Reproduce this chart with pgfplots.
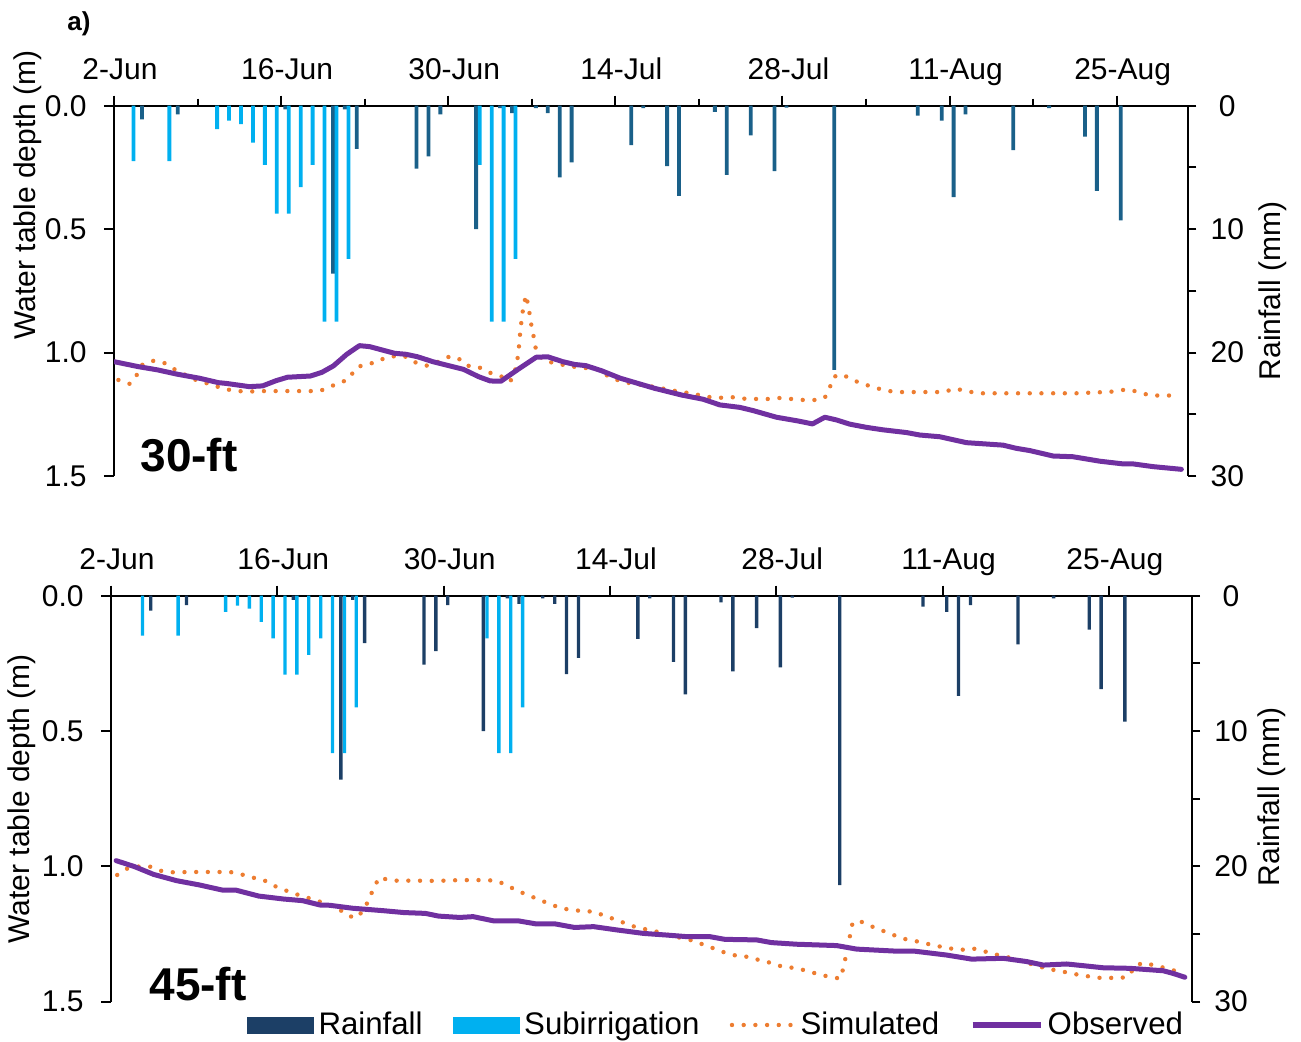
\documentclass[border=0pt]{standalone}
\usepackage{pgfplots}
\pgfplotsset{compat=1.18}
\usepackage{pgfplotstable}
\usepackage{fontspec}
\setmainfont{Liberation Sans}

\definecolor{rainTop}{HTML}{1A6089}
\definecolor{rainBot}{HTML}{1C3F66}
\definecolor{subc}{HTML}{00B0F0}
\definecolor{simc}{HTML}{ED7D31}
\definecolor{obsc}{HTML}{7030A0}

\newcommand\fs{\fontsize{15bp}{18bp}\selectfont}

% daily rainfall (mm); d = day index counted from 2-Jun
\pgfplotstableread{
d r
2 1.1
5 0.7
14 0.3
18 13.6
19 0.3
20 3.5
25 5.1
26 4.1
27 0.7
30 10.0
32 0.2
33 0.6
35 0.2
36 0.6
37 5.8
38 4.6
43 3.2
44 0.2
46 4.9
47 7.3
50 0.5
51 5.6
53 2.4
55 5.3
56 0.15
60 21.4
67 0.8
69 1.2
70 7.4
71 0.7
75 3.6
78 0.2
81 2.5
82 6.9
84 9.3
}\rain

% subirrigation, 30-ft spacing
\pgfplotstableread{
d s
1 4.5
4 4.5
8 1.9
9 1.2
10 1.5
11 3.0
12 4.8
13 8.75
14 8.75
15 6.6
16 4.8
17 17.5
18 17.5
19 12.4
30 4.8
31 17.5
32 17.5
33 12.4
}\subA

% subirrigation, 45-ft spacing
\pgfplotstableread{
d s
2 2.95
5 2.95
9 1.2
10 0.74
11 0.96
12 1.94
13 3.15
14 5.84
15 5.84
16 4.38
17 3.15
18 11.63
19 11.63
20 8.25
31 3.15
32 11.63
33 11.63
34 8.25
}\subB

\tikzset{
  obs/.style={obsc, line width=2.5bp, line join=round, line cap=round},
  sim/.style={simc, line width=2.2bp, line cap=round, dash pattern=on 0bp off 5.85bp},
}

\pgfplotsset{
  /pgf/number format/assume math mode=true,
  panel/.style={
    scale only axis, anchor=south west,
    tick align=outside,
    axis line style={black, line width=1bp},
    tick style={black, line width=1bp},
    tick label style={font=\fs},
  },
  depth/.style={
    panel,
    ymin=0, ymax=1.5, y dir=reverse,
    axis x line*=top, axis y line*=left,
    ytick={0,0.5,1,1.5},
    yticklabel style={/pgf/number format/fixed, /pgf/number format/fixed zerofill,
      /pgf/number format/precision=1, anchor=east, inner sep=0pt, xshift=-8.5bp},
    xticklabel style={anchor=base, inner sep=0pt, xshift=3bp, yshift=8bp},
    xtick={0,14,...,84},
    xticklabels={2-Jun,16-Jun,30-Jun,14-Jul,28-Jul,11-Aug,25-Aug},
    major tick length=5bp, minor tick length=3.5bp,
  },
  rainax/.style={
    panel,
    ymin=0, ymax=30, y dir=reverse,
    axis y line*=right, axis x line=none,
    ytick={0,10,20,30}, minor ytick={5,15,25},
    yticklabel style={anchor=center, inner sep=0pt, xshift=15.5bp},
    major tick length=4bp, minor tick length=4bp,
  },
  bars/.style={ybar, bar width=0.32, bar shift=0pt, draw=none},
}

\begin{document}
\begin{tikzpicture}
\path[use as bounding box] (0,0) rectangle (650.5bp,521bp);

% ---------------- 30-ft panel ----------------
\begin{axis}[depth, at={(57bp,283bp)}, width=537.15bp, height=185.15bp,
  xmin=0, xmax=90, minor xtick={7,21,35,49,63,77}]
\addplot[sim] coordinates {
(0.37,1.111) (1.33,1.127) (1.88,1.093) (2.35,1.050) (3.16,1.033) (4.11,1.039)
(4.92,1.064) (5.72,1.084) (6.68,1.108) (7.64,1.122) (8.44,1.135) (9.41,1.149)
(10.37,1.156) (11.33,1.158) (12.29,1.156) (13.25,1.156) (14.37,1.156) (15.33,1.156)
(16.30,1.156) (17.25,1.156) (18.06,1.138) (18.95,1.124) (19.72,1.104) (20.23,1.064)
(21.00,1.047) (21.90,1.041) (22.80,1.019) (23.67,1.014) (24.47,1.017) (25.37,1.043)
(26.23,1.053) (27.19,1.037) (28.06,1.017) (28.80,1.021) (29.53,1.053) (30.49,1.057)
(31.36,1.080) (32.32,1.093) (33.18,1.118) (33.50,1.091) (33.76,1.041) (33.90,0.990)
(34.06,0.902) (34.25,0.830) (34.51,0.767) (34.75,0.820) (34.92,0.880) (35.07,0.906)
(35.20,0.952) (35.37,0.992) (36.00,1.033) (36.97,1.043) (37.93,1.053) (38.90,1.060)
(39.86,1.064) (40.81,1.070) (41.46,1.100) (42.42,1.115) (43.22,1.124) (44.18,1.131)
(45.14,1.138) (46.10,1.147) (47.07,1.156) (48.02,1.163) (49.00,1.172) (49.97,1.181)
(50.90,1.183) (51.87,1.181) (52.85,1.187) (53.83,1.188) (54.80,1.188) (55.78,1.184)
(56.76,1.188) (57.73,1.192) (58.71,1.192) (59.55,1.183) (59.97,1.141) (60.30,1.098)
(61.00,1.088) (61.87,1.111) (62.76,1.127) (63.74,1.142) (64.66,1.154) (65.60,1.160)
(67.50,1.160) (69.50,1.160) (70.46,1.146) (71.42,1.156) (72.39,1.165) (75.32,1.165)
(79.23,1.165) (81.18,1.165) (82.16,1.160) (83.14,1.162) (84.06,1.154) (85.00,1.149)
(85.93,1.162) (86.85,1.174) (87.83,1.174) (88.80,1.174)
};
\addplot[obs] coordinates {
(0.02,1.037) (2.03,1.057) (3.63,1.070) (5.23,1.087) (7.16,1.104) (8.76,1.122)
(9.41,1.125) (11.33,1.138) (12.45,1.135) (13.57,1.114) (14.53,1.100) (16.46,1.095)
(17.42,1.080) (18.38,1.054) (19.50,1.007) (20.56,0.972) (21.42,0.976) (23.51,1.003)
(24.47,1.007) (25.43,1.017) (26.72,1.037) (29.28,1.068) (30.56,1.098) (31.52,1.115)
(32.42,1.116) (33.76,1.071) (35.37,1.019) (36.33,1.017) (37.61,1.037) (38.58,1.048)
(39.53,1.053) (40.81,1.073) (42.42,1.104) (45.30,1.145) (47.55,1.172) (49.35,1.189)
(50.75,1.212) (52.43,1.222) (53.54,1.235) (55.50,1.262) (57.18,1.276) (58.52,1.289)
(59.55,1.262) (60.53,1.273) (61.64,1.290) (63.04,1.303) (64.43,1.313) (66.39,1.324)
(67.50,1.334) (69.18,1.341) (71.42,1.365) (74.48,1.375) (75.60,1.388) (76.72,1.397)
(78.67,1.419) (80.34,1.422) (82.58,1.440) (84.53,1.451) (85.37,1.451) (87.04,1.462)
(89.42,1.473)
};
\end{axis}

\begin{axis}[rainax, at={(57bp,283bp)}, width=537.15bp, height=185.15bp,
  xmin=0, xmax=90]
\addplot[bars, fill=rainTop] table[x expr=\thisrow{d}+0.34, y=r]{\rain};
\addplot[bars, fill=subc] table[x expr=\thisrow{d}+0.64, y=s]{\subA};
\end{axis}

% ---------------- 45-ft panel ----------------
\begin{axis}[depth, at={(55.5bp,20.2bp)}, width=540.5bp, height=202.95bp,
  xmin=0, xmax=91]
\addplot[sim] coordinates {
(0.52,1.032) (1.33,1.009) (2.30,1.001) (3.27,1.001) (4.23,1.017) (5.19,1.022)
(7.13,1.021) (9.06,1.021) (10.03,1.021) (10.99,1.030) (11.96,1.042) (12.86,1.051)
(13.73,1.072) (14.63,1.088) (15.51,1.102) (16.47,1.115) (17.37,1.128) (18.27,1.139)
(19.21,1.159) (20.02,1.184) (20.72,1.190) (21.36,1.155) (21.78,1.115) (22.17,1.075)
(22.59,1.041) (23.56,1.053) (25.49,1.053) (27.42,1.054) (29.35,1.051) (31.38,1.051)
(32.42,1.053) (33.28,1.069) (34.18,1.090) (35.09,1.106) (35.96,1.122) (36.93,1.139)
(37.83,1.154) (38.80,1.162) (39.73,1.165) (40.70,1.168) (41.60,1.184) (42.56,1.198)
(43.47,1.214) (44.33,1.227) (45.30,1.235) (46.27,1.245) (47.23,1.258) (48.17,1.266)
(49.10,1.276) (50.06,1.293) (50.98,1.307) (51.91,1.323) (52.84,1.332) (53.79,1.335)
(54.71,1.349) (55.70,1.358) (56.62,1.373) (57.58,1.375) (58.53,1.386) (59.49,1.398)
(60.44,1.408) (61.39,1.415) (61.64,1.378) (61.84,1.336) (62.06,1.295) (62.23,1.251)
(62.43,1.208) (63.07,1.203) (63.97,1.221) (64.90,1.237) (65.82,1.253) (66.75,1.268)
(67.70,1.276) (68.66,1.286) (69.61,1.295) (70.56,1.303) (71.55,1.309) (72.50,1.303)
(73.43,1.313) (74.38,1.325) (75.34,1.334) (76.24,1.346) (77.21,1.358) (78.20,1.371)
(79.12,1.381) (80.11,1.389) (81.09,1.398) (82.04,1.405) (83.00,1.412) (84.01,1.412)
(84.93,1.414) (85.69,1.405) (86.20,1.368) (86.95,1.356) (87.88,1.367) (88.86,1.377)
(89.79,1.389)
};
\addplot[obs] coordinates {
(0.43,0.979) (1.97,1.001) (3.59,1.030) (5.51,1.053) (7.45,1.069) (9.39,1.088)
(10.51,1.088) (12.44,1.110) (14.54,1.121) (16.14,1.127) (17.59,1.143) (18.40,1.144)
(20.34,1.155) (22.91,1.164) (24.68,1.171) (26.46,1.174) (27.58,1.184) (29.36,1.189)
(30.48,1.186) (32.25,1.202) (34.34,1.202) (35.80,1.213) (37.41,1.213) (39.02,1.226)
(40.63,1.223) (42.56,1.235) (44.82,1.248) (46.75,1.254) (48.50,1.260) (50.42,1.260)
(51.68,1.270) (54.35,1.272) (55.61,1.282) (57.72,1.288) (61.09,1.293) (62.77,1.306)
(65.85,1.313) (67.53,1.313) (70.35,1.328) (72.45,1.343) (75.11,1.340) (77.08,1.352)
(78.48,1.365) (80.45,1.361) (81.57,1.366) (83.53,1.375) (85.77,1.377) (88.58,1.386)
(89.42,1.396) (90.40,1.410)
};
\end{axis}

\begin{axis}[rainax, at={(55.5bp,20.2bp)}, width=540.5bp, height=202.95bp,
  xmin=0, xmax=91,
  legend columns=4,
  legend style={at={(axis description cs:0.1258,-0.0576)}, anchor=west,
    draw=none, fill=none, inner sep=0pt,
    font=\fontsize{15.6bp}{18bp}\selectfont,
    nodes={inner sep=2.2bp},
    /tikz/every even column/.append style={column sep=13bp}},
  legend cell align=left]
\addplot[bars, bar width=0.28, fill=rainBot, forget plot] table[x expr=\thisrow{d}+1.35, y=r]{\rain};
\addplot[bars, bar width=0.28, fill=subc, forget plot] table[x expr=\thisrow{d}+0.65, y=s]{\subB};
\addlegendimage{legend image code/.code={\fill[rainBot] (0bp,-4bp) rectangle (33bp,4bp);}}
\addlegendentry{Rainfall}
\addlegendimage{legend image code/.code={\fill[subc] (0bp,-4bp) rectangle (33bp,4bp);}}
\addlegendentry{Subirrigation}
\addlegendimage{legend image code/.code={\draw[sim] (1bp,0bp) -- (32bp,0bp);}}
\addlegendentry{Simulated}
\addlegendimage{legend image code/.code={\draw[obsc, line width=2.8bp] (0bp,0bp) -- (34bp,0bp);}}
\addlegendentry{Observed}
\end{axis}

% panel tags and axis titles
\node[font=\bfseries\fontsize{13bp}{15bp}\selectfont, anchor=base] at (39.5bp,505.5bp) {a)};
\node[font=\bfseries\fontsize{23bp}{27bp}\selectfont, anchor=base] at (94.5bp,285bp) {30-ft};
\node[font=\bfseries\fontsize{23bp}{27bp}\selectfont, anchor=base] at (99bp,21bp) {45-ft};
\node[font=\fs, rotate=90] at (14bp,423.5bp) {Water table depth (m)};
\node[font=\fs, rotate=90] at (636.5bp,375.5bp) {Rainfall (mm)};
\node[font=\fs, rotate=90] at (11bp,121.5bp) {Water table depth (m)};
\node[font=\fs, rotate=90] at (636bp,122.5bp) {Rainfall (mm)};
\end{tikzpicture}
\end{document}
